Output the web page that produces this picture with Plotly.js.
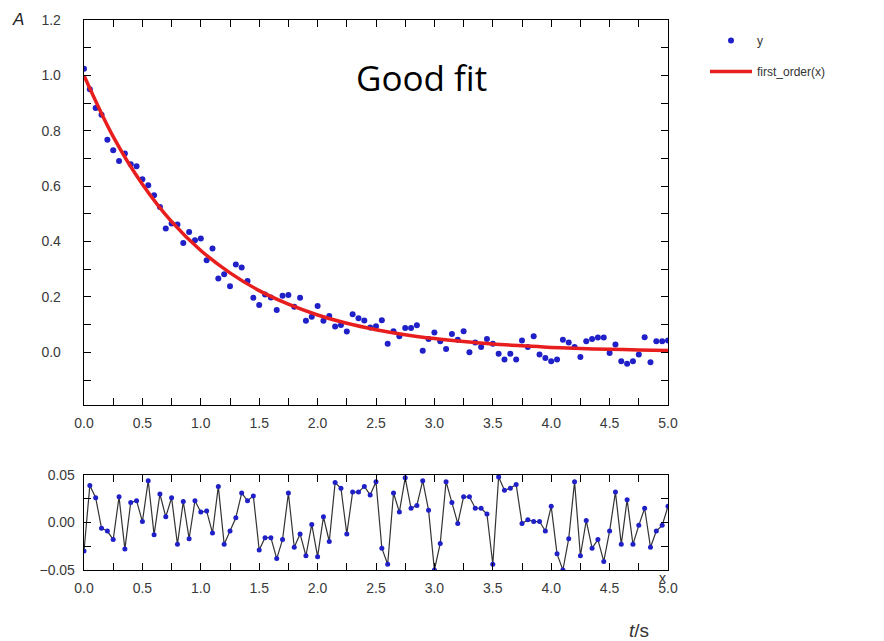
<!DOCTYPE html>
<html>
<head>
<meta charset="utf-8">
<script src="https://cdn.plot.ly/plotly-3.0.1.min.js"></script>
<style>html,body{margin:0;padding:0;background:#fff;}#chart{width:884px;height:641px;}</style>
</head>
<body>
<div id="chart"></div>
<script>
// time axis (s)
const tValues = [0.00,0.05,0.10,0.15,0.20,0.25,0.30,0.35,0.40,0.45,
  0.50,0.55,0.60,0.65,0.70,0.75,0.80,0.85,0.90,0.95,
  1.00,1.05,1.10,1.15,1.20,1.25,1.30,1.35,1.40,1.45,
  1.50,1.55,1.60,1.65,1.70,1.75,1.80,1.85,1.90,1.95,
  2.00,2.05,2.10,2.15,2.20,2.25,2.30,2.35,2.40,2.45,
  2.50,2.55,2.60,2.65,2.70,2.75,2.80,2.85,2.90,2.95,
  3.00,3.05,3.10,3.15,3.20,3.25,3.30,3.35,3.40,3.45,
  3.50,3.55,3.60,3.65,3.70,3.75,3.80,3.85,3.90,3.95,
  4.00,4.05,4.10,4.15,4.20,4.25,4.30,4.35,4.40,4.45,
  4.50,4.55,4.60,4.65,4.70,4.75,4.80,4.85,4.90,4.95,
  5.00];

// measured data y
const yData = [1.024,0.950,0.882,0.858,0.768,0.730,0.691,0.718,0.679,0.672,
  0.625,0.603,0.567,0.525,0.447,0.465,0.462,0.395,0.435,0.405,
  0.411,0.333,0.375,0.267,0.282,0.239,0.317,0.306,0.258,0.197,
  0.171,0.209,0.198,0.153,0.204,0.207,0.165,0.197,0.114,0.129,
  0.167,0.114,0.131,0.093,0.099,0.075,0.138,0.123,0.115,0.090,
  0.094,0.116,0.031,0.076,0.058,0.088,0.088,0.098,0.006,0.048,
  0.072,0.040,0.012,0.066,0.046,0.076,0.000,0.036,0.019,0.048,
  0.031,-0.005,-0.026,-0.005,-0.026,0.043,0.019,0.058,-0.008,-0.020,
  -0.032,-0.026,0.046,0.036,0.019,-0.017,0.040,0.048,0.054,0.054,
  -0.002,0.028,-0.032,-0.041,-0.032,-0.008,0.055,-0.036,0.040,0.040,
  0.043];

// fitted curve first_order(x), read at 0.25 s steps
const fitX = [0,0.25,0.5,0.75,1.0,1.25,1.5,1.75,2.0,2.25,2.5,2.75,3.0,3.25,3.5,3.75,4.0,4.25,4.5,4.75,5.0];
const fitY = [1.000,0.779,0.607,0.472,0.368,0.287,0.223,0.174,0.135,0.105,0.082,0.064,0.050,0.039,0.030,0.024,0.018,0.014,0.011,0.009,0.007];

// residuals
const residuals = [-0.030,0.039,0.026,-0.006,-0.009,-0.018,0.027,-0.028,0.021,0.023,
  0.001,0.044,-0.013,0.030,0.006,0.026,-0.023,0.022,-0.017,0.023,
  0.011,0.012,-0.011,0.038,-0.023,-0.009,0.005,0.031,0.023,0.028,
  -0.029,-0.016,-0.016,-0.038,-0.018,0.031,-0.026,-0.012,-0.035,-0.002,
  -0.036,0.006,-0.020,0.042,0.036,-0.012,0.032,0.032,0.038,0.029,
  0.043,-0.027,-0.044,0.031,0.011,0.047,0.015,0.018,0.044,0.013,
  -0.050,-0.022,0.043,0.021,-0.001,0.027,0.027,0.015,0.015,0.009,
  -0.044,0.048,0.034,0.036,0.040,-0.001,0.003,0.001,0.001,-0.009,
  0.017,-0.033,-0.050,-0.017,0.043,-0.035,0.002,-0.027,-0.018,-0.041,
  -0.009,0.032,-0.023,0.024,-0.023,-0.003,0.015,-0.026,-0.009,-0.003,
  0.017];

const mainYTicks = [0,0.2,0.4,0.6,0.8,1.0,1.2];
const residYTicks = [-0.05,0,0.05];

const W = 884, H = 641;
const blue = 'rgb(32,32,200)';
const red = 'rgb(232,30,30)';
const tickFont = {family: 'Liberation Sans, Arial, sans-serif', size: 14, color: '#3a3a3a'};

const traces = [
  {x: tValues, y: yData, type: 'scatter', mode: 'markers', name: 'y',
   legendgroup: 'a', marker: {color: blue, size: 6}, xaxis: 'x', yaxis: 'y'},
  {x: fitX, y: fitY, type: 'scatter', mode: 'lines', name: 'first_order(x)',
   legendgroup: 'b', line: {color: red, width: 3.5, shape: 'spline'}, xaxis: 'x', yaxis: 'y'},
  {x: tValues, y: residuals, type: 'scatter', mode: 'lines+markers', showlegend: false,
   line: {color: '#333', width: 1.2}, marker: {color: blue, size: 5}, xaxis: 'x2', yaxis: 'y2'}
];

const xDom = [84/W, 668/W];
function xAxis(anchor, standoff) {
  return {domain: xDom, anchor: anchor, range: [0, 5], showline: true, mirror: 'allticks',
    linecolor: 'black', linewidth: 1.3, ticks: 'inside', ticklen: 7, tickcolor: 'black',
    tickwidth: 1, tick0: 0, dtick: 0.5, tickformat: '.1f', showgrid: false, zeroline: false,
    minor: {ticks: 'inside', dtick: 0.25, ticklen: 7, tickcolor: 'black', showgrid: false},
    tickfont: tickFont, ticklabelstandoff: standoff};
}

const layout = {
  width: W, height: H,
  margin: {l: 0, r: 0, t: 0, b: 0},
  paper_bgcolor: 'white', plot_bgcolor: 'white',
  showlegend: true,
  legend: {x: 705/W, y: 1 - 26/H, xanchor: 'left', yanchor: 'top', tracegroupgap: 12,
    itemwidth: 42,
    font: {family: 'Liberation Sans, Arial, sans-serif', size: 12, color: '#333'},
    bgcolor: 'rgba(0,0,0,0)'},
  xaxis: xAxis('y', 5),
  yaxis: {domain: [1 - 405/H, 1 - 20/H], anchor: 'x', range: [-0.19, 1.2], showline: true,
    mirror: 'allticks', linecolor: 'black', linewidth: 1.3, ticks: 'inside', ticklen: 7,
    tickcolor: 'black', tickvals: mainYTicks, ticktext: mainYTicks.map(v => v.toFixed(1)),
    showgrid: false, zeroline: false,
    minor: {ticks: 'inside', tick0: 0, dtick: 0.1, ticklen: 7, tickcolor: 'black', showgrid: false},
    tickfont: tickFont, ticklabelstandoff: 19},
  xaxis2: xAxis('y2', 5),
  yaxis2: {domain: [1 - 570/H, 1 - 475/H], anchor: 'x2', range: [-0.05, 0.05], showline: true,
    mirror: 'allticks', linecolor: 'black', linewidth: 1.3, ticks: 'inside', ticklen: 7,
    tickcolor: 'black', tickvals: residYTicks,
    ticktext: residYTicks.map(v => (v < 0 ? '\u22120' + Math.abs(v).toFixed(2).slice(1) : v.toFixed(2))),
    showgrid: false, zeroline: false,
    minor: {ticks: 'inside', tick0: 0, dtick: 0.025, ticklen: 7, tickcolor: 'black', showgrid: false},
    tickfont: tickFont, ticklabelstandoff: 5},
  annotations: [
    {text: '<i>A</i>', xref: 'paper', yref: 'paper', x: 18/W, y: 1 - 20/H, showarrow: false,
     xanchor: 'center', yanchor: 'middle',
     font: {family: 'Liberation Sans, Arial, sans-serif', size: 17, color: '#222'}},
    {text: 'Good fit', xref: 'paper', yref: 'paper', x: 421/W, y: 1 - 77/H, showarrow: false,
     xanchor: 'center', yanchor: 'middle',
     font: {family: 'Open Sans, sans-serif', size: 35, color: '#000'}},
    {text: 'x', xref: 'paper', yref: 'paper', x: 662/W, y: 1 - 578/H, showarrow: false,
     xanchor: 'center', yanchor: 'middle',
     font: {family: 'Liberation Sans, Arial, sans-serif', size: 14, color: '#333'}},
    {text: '<i>t</i>/s', xref: 'paper', yref: 'paper', x: 639/W, y: 1 - 630/H, showarrow: false,
     xanchor: 'center', yanchor: 'middle',
     font: {family: 'Liberation Sans, Arial, sans-serif', size: 19, color: '#333'}}
  ]
};

Plotly.newPlot('chart', traces, layout, {displayModeBar: false, staticPlot: true});
</script>
</body>
</html>
